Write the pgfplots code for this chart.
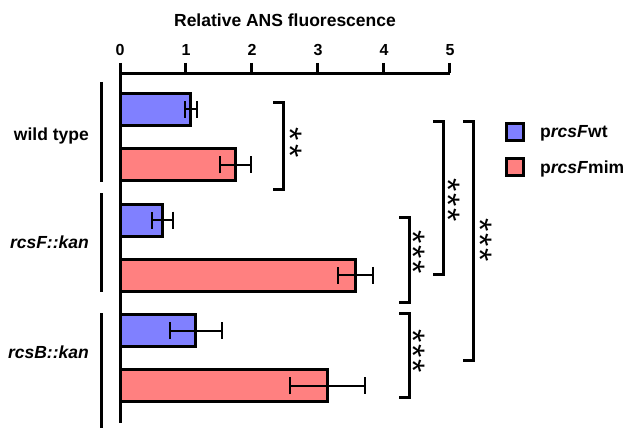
\documentclass[border=0pt]{standalone}
\usepackage{fontspec}
\setmainfont{Liberation Sans}
\usepackage{pgfplots}
\pgfplotsset{compat=1.18}
\definecolor{wtblue}{RGB}{128,128,255}
\definecolor{mimred}{RGB}{255,128,128}
\newcommand{\lab}{\bfseries\fontsize{17.5}{17.5}\selectfont}
\begin{document}
\begin{tikzpicture}
\begin{axis}[
  at={(120pt,-73pt)}, anchor=north west,
  scale only axis, width=330pt, height=350pt,
  xmin=0, xmax=5, ymin=-5.6691, ymax=0.6600,
  axis x line=top, axis y line=left,
  axis line style={line width=3pt, -, black},
  xtick={0,1,2,3,4,5},
  tick align=outside,
  major tick length=10pt,
  x tick style={line width=3pt, black},
  /pgf/number format/assume math mode=true,
  xticklabel style={font=\bfseries\fontsize{16}{16}\selectfont, anchor=base, inner sep=0pt, yshift=7pt},
  ytick={-0.4791,-2.3960,-4.3852},
  yticklabels={wild type,{\itshape rcsF::kan},{\itshape rcsB::kan}},
  y tick style={draw=none},
  yticklabel style={font=\lab, anchor=east, inner sep=0pt, xshift=-21pt},
  xlabel={Relative ANS fluorescence},
  xlabel style={at={(rel axis cs:0.5,1)}, anchor=base, inner sep=0pt, yshift=46pt, font=\lab},
  clip=false,
]
\addplot[xbar, bar shift=0pt, bar width=32pt, fill=wtblue, draw=black, line width=3pt,
  error bars/.cd, x dir=both, x explicit, error mark=|,
  error bar style={line width=2pt, black},
  error mark options={line width=2pt, black, mark size=8.5pt}]
  coordinates {(1.07,0) +- (0.09,0) (0.65,-2) +- (0.16,0) (1.15,-4) +- (0.39,0)};
\addplot[xbar, bar shift=0pt, bar width=32pt, fill=mimred, draw=black, line width=3pt,
  error bars/.cd, x dir=both, x explicit, error mark=|,
  error bar style={line width=2pt, black},
  error mark options={line width=2pt, black, mark size=8.5pt}]
  coordinates {(1.75,-1) +- (0.24,0) (3.57,-3) +- (0.27,0) (3.14,-5) +- (0.57,0)};
\end{axis}
\begin{scope}[x=1pt,y=-1pt]
  % group lines
  \draw[line width=3pt] (101,82) -- (101,182);
  \draw[line width=3pt] (101,193) -- (101,292);
  \draw[line width=3pt] (101,313) -- (101,428);
  % brackets
  \draw[line width=3pt, line join=miter] (273,102) -- (283,102) -- (283,189) -- (273,189);
  \draw[line width=3pt, line join=miter] (399,217) -- (409,217) -- (409,302) -- (399,302);
  \draw[line width=3pt, line join=miter] (433,121) -- (443,121) -- (443,274) -- (433,274);
  \draw[line width=3pt, line join=miter] (463,121) -- (473,121) -- (473,360) -- (463,360);
  \draw[line width=3pt, line join=miter] (399,313) -- (409,313) -- (409,397) -- (399,397);
  % asterisks (rotated strings)
  \tikzset{stars/.style={font=\fontsize{34}{34}\selectfont, inner sep=0pt, anchor=center, rotate=-90}}
  \node[stars] at (297-7.2,142.5) {*\kern3.8pt*};
  \node[stars] at (420-7.2,252) {*\kern1.8pt*\kern1.8pt*};
  \node[stars] at (455-7.2,200) {*\kern1.8pt*\kern1.8pt*};
  \node[stars] at (487-7.2,240) {*\kern1.8pt*\kern1.8pt*};
  \node[stars] at (420-7.2,351) {*\kern1.8pt*\kern1.8pt*};
  % legend
  \draw[fill=wtblue, line width=3pt] (506.5,123.5) rectangle (523.5,140.5);
  \draw[fill=mimred, line width=3pt] (506.5,158.5) rectangle (523.5,175.5);
  \node[font=\lab, inner sep=0pt, anchor=base west] at (540,137.5) {p\textit{rcsF}wt};
  \node[font=\lab, inner sep=0pt, anchor=base west] at (540,173) {p\textit{rcsF}mim};
\end{scope}
\pgfresetboundingbox
\path[use as bounding box] (0pt,0pt) rectangle (624pt,-428pt);
\end{tikzpicture}
\end{document}
